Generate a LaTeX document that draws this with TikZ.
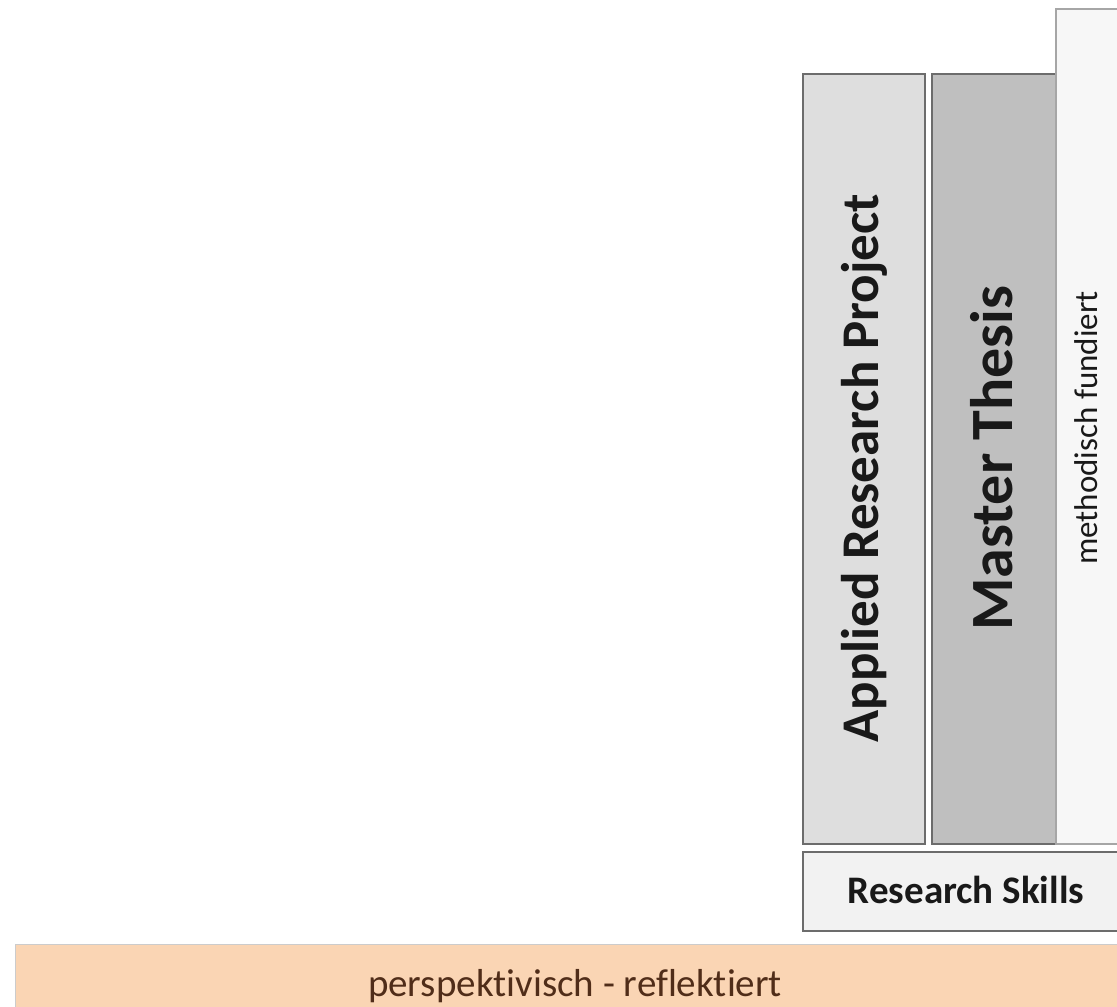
\documentclass[tikz,border=0pt]{standalone}
\usepackage{fontspec}
\setmainfont{Carlito}[Ligatures=NoCommon]
\begin{document}
\begin{tikzpicture}[x=1pt,y=-1pt,
  box/.style={draw=#1, line width=1.8pt, inner sep=0pt, anchor=north west},
  boxlabel/.style={font=\bfseries, text=black!90, inner sep=0pt}]
\useasboundingbox (0,0) rectangle (1117,1007);
\clip (0,0) rectangle (1117,1007);
% Applied Research Project
\node[box=gray!85!black, fill=black!13, minimum width=122pt, minimum height=770pt] (arp) at (802,73) {};
% Master Thesis
\node[box=gray!85!black, fill=black!25, minimum width=160pt, minimum height=770pt] (mt) at (931,73) {};
% methodisch fundiert
\node[box=black!35, fill=black!3, minimum width=100pt, minimum height=835pt] (mf) at (1055,8) {};
% Research Skills
\node[box=gray!85!black, fill=black!5, minimum width=340pt, minimum height=79pt] (rs) at (802,851) {};
% perspektivisch - reflektiert
\node[box=black!20, line width=1pt, fill={rgb,255:red,250;green,213;blue,180}, minimum width=1120pt, minimum height=80pt] (pr) at (15,944) {};

\node[boxlabel, rotate=90, font=\bfseries\fontsize{53}{53}\selectfont] (arpt) at (864,468) {Applied Research Project};
\node[boxlabel, rotate=90, font=\bfseries\fontsize{60}{60}\selectfont] (mtt) at (992,458) {Master Thesis};
\node[inner sep=0pt, rotate=90, text=black!90, font=\fontsize{33}{33}\selectfont] (mft) at (1086,428) {methodisch fundiert};
\node[boxlabel, font=\bfseries\fontsize{39}{39}\selectfont] (rst) at (966,890) {Research Skills};
\node[inner sep=0pt, text={rgb,255:red,80;green,45;blue,25}, font=\fontsize{39}{39}\selectfont] (prt) at (575,986) {perspektivisch - reflektiert};
\end{tikzpicture}
\end{document}
